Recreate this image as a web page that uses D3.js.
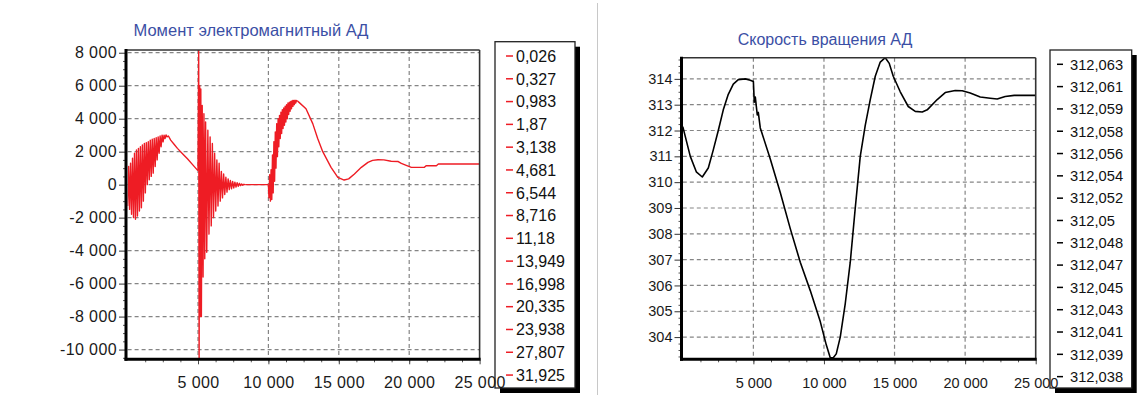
<!DOCTYPE html>
<html><head><meta charset="utf-8">
<script src="https://cdn.jsdelivr.net/npm/d3@7"></script>
<style>
body{margin:0;background:#fff}
svg{display:block}
text{font-family:"Liberation Sans", Arial, sans-serif}
</style>
</head><body>
<svg id="c" width="1142" height="401"></svg>
<script>
// ---------------- DATA ----------------
const xTicks = [5000, 10000, 15000, 20000, 25000];
const torqueYTicks = [-10000, -8000, -6000, -4000, -2000, 0, 2000, 4000, 6000, 8000];
const speedYTicks = [304, 305, 306, 307, 308, 309, 310, 311, 312, 313, 314];

const torqueTitle = "Момент электромагнитный АД";
const speedTitle = "Скорость вращения АД";

const torqueLegend = ["0,026","0,327","0,983","1,87","3,138","4,681","6,544","8,716","11,18","13,949","16,998","20,335","23,938","27,807","31,925"];
const speedLegend = ["312,063","312,061","312,059","312,058","312,056","312,054","312,052","312,05","312,048","312,047","312,045","312,043","312,041","312,039","312,038"];

// torque: start-up (t, value)
const torqueStart = [[0,-1300],[70,1100],[140,-1500],[210,1300],[280,-1800],[350,1600],[420,-2000],[490,1900],[560,-2100],[630,2100],[700,-1900],[770,2200],[840,-1600],[910,2300],[980,-1400],[1050,2400],[1120,-1000],[1190,2500],[1260,-500],[1330,2550],[1400,0],[1470,2600],[1540,300],[1610,2700],[1680,500],[1750,2750],[1820,700],[1890,2800],[1960,1100],[2030,2850],[2100,1500],[2170,2900],[2240,1900],[2310,2950],[2380,2300],[2450,3000],[2520,2600],[2590,3000],[2660,2800],[2730,3020],[2800,2900],[2900,2950],[3060,2700],[3300,2450],[3540,2200],[3900,1880],[4250,1570],[4600,1230],[4960,880],[5000,870]];
// torque: fault transient
const torqueFault = [[5000,870],[5050,8300],[5080,-10700],[5120,6000],[5160,-8000],[5200,5800],[5240,-8000],[5300,4800],[5360,-5600],[5420,4300],[5480,-4500],[5540,3800],[5620,-4100],[5700,3300],[5780,-3000],[5860,2900],[5940,-2500],[6020,2500],[6100,-2000],[6180,1900],[6260,-1600],[6340,1500],[6420,-1300],[6500,1300],[6580,-1000],[6660,800],[6740,-800],[6820,650],[6900,-600],[6980,450],[7060,-450],[7140,350],[7220,-300],[7300,250],[7380,-250],[7460,200],[7540,-200],[7620,150],[7700,-150],[7780,120],[7860,-100],[7940,80],[8020,-60],[8100,40],[8180,-30],[8260,20],[8350,0]];
// torque: idle gap
const torqueIdle = [[8350,0],[10000,0]];
// torque: reclosing transient
const torqueReclose = [[10000,0],[10040,-800],[10090,600],[10140,-1000],[10190,900],[10240,-900],[10290,1800],[10340,-500],[10390,2600],[10440,200],[10490,3200],[10540,1000],[10590,3700],[10640,1700],[10690,4000],[10740,2300],[10790,4200],[10840,2800],[10890,4400],[10940,3100],[10990,4550],[11040,3400],[11090,4650],[11140,3600],[11190,4750],[11240,3800],[11290,4850],[11340,4000],[11390,4950],[11440,4250],[11490,5000],[11540,4450],[11590,5050],[11640,4600],[11690,5100],[11740,4750],[11790,5100],[11840,4850],[11890,5120],[11940,4950],[11990,5100],[12100,5050]];
// torque: settling
const torqueSettle = [[12100,5050],[12670,4600],[13150,3700],[13500,2800],[13860,2000],[14450,1050],[14930,440],[15380,280],[15700,350],[16110,650],[16600,1050],[17070,1350],[17400,1470],[17780,1510],[18200,1500],[18720,1420],[19220,1400],[19440,1290],[19790,1170],[20150,1050],[21080,1050],[21200,1150],[21930,1150],[22070,1250],[25000,1250]];

// speed (t, value)
const speedPoints = [[0,312.15],[531,311.0],[956,310.4],[1381,310.2],[1806,310.55],[2160,311.25],[2514,312.0],[2868,312.8],[3222,313.4],[3577,313.8],[3931,313.97],[4427,314.0],[4781,313.95],[5000,313.9],[5064,313.1],[5135,313.3],[5276,312.6],[5347,312.7],[5489,312.1],[6197,310.9],[6905,309.6],[7613,308.2],[8321,306.9],[9030,305.8],[9738,304.6],[10163,303.7],[10446,303.2],[10659,303.2],[10871,303.35],[11154,304.0],[11509,305.3],[11863,306.9],[12217,309.0],[12571,311.0],[12925,312.2],[13280,313.2],[13634,314.1],[13988,314.65],[14342,314.82],[14625,314.6],[14909,314.1],[15404,313.5],[15971,312.93],[16466,312.74],[16962,312.72],[17316,312.8],[18024,313.2],[18591,313.47],[19299,313.55],[19795,313.54],[20362,313.45],[21070,313.3],[21778,313.25],[22274,313.22],[22840,313.32],[23478,313.36],[25000,313.36]];

// ---------------- DRAW ----------------
const svg = d3.select("#c");
const loc = d3.formatLocale({decimal: ",", thousands: " ", grouping: [3], currency: ["", ""], minus: "-"});
const fmt = loc.format(",d");

// divider between the two screenshots
svg.append("line").attr("x1", 597.5).attr("x2", 597.5).attr("y1", 3).attr("y2", 395)
  .attr("stroke", "#c8c8c8").attr("stroke-width", 1);

function drawChart(o) {
  const g = svg.append("g");
  const x = d3.scaleLinear().domain([0, 25000]).range([o.x0, o.x1]);
  const y = d3.scaleLinear().domain(o.yDomain).range([o.yBottom, o.yTop]);
  const id = "clip" + o.name;
  svg.append("clipPath").attr("id", id).append("rect")
    .attr("x", o.x0).attr("y", o.yTop).attr("width", o.x1 - o.x0).attr("height", o.yBottom - o.yTop);

  // title
  g.append("text").attr("x", o.titleX).attr("y", o.titleY).attr("text-anchor", "middle")
    .attr("font-size", o.titleSize).attr("fill", "#3b4fa5").text(o.title);

  // grid
  const grid = g.append("g").attr("stroke", "#858585").attr("stroke-width", 1.2).attr("stroke-dasharray", "4,3");
  o.yTicks.forEach(v => grid.append("line").attr("x1", o.x0).attr("x2", o.x1).attr("y1", y(v)).attr("y2", y(v)));
  xTicks.filter(v => v < 25000).forEach(v => grid.append("line").attr("y1", o.yTop).attr("y2", o.yBottom).attr("x1", x(v)).attr("x2", x(v)));

  // line
  const line = d3.line().x(d => x(d[0])).y(d => y(d[1]));
  o.series.forEach(s => g.append("path").datum(s).attr("d", line).attr("fill", "none")
    .attr("stroke", o.color).attr("stroke-width", o.lineWidth).attr("stroke-linejoin", "round")
    .attr("clip-path", `url(#${id})`));

  // legend (drawn before axes so the last x label sits on top)
  const lg = g.append("g");
  lg.append("rect").attr("x", o.lx0 + 5).attr("y", o.ly0 + 5).attr("width", o.lx1 - o.lx0).attr("height", o.ly1 - o.ly0).attr("fill", "#000");
  lg.append("rect").attr("x", o.lx0).attr("y", o.ly0).attr("width", o.lx1 - o.lx0).attr("height", o.ly1 - o.ly0)
    .attr("fill", "#fff").attr("stroke", "#222").attr("stroke-width", 1.3);
  o.legend.forEach((t, i) => {
    const cy = o.legFirst + i * o.legStep;
    lg.append("line").attr("x1", o.lx0 + o.dash[0]).attr("x2", o.lx0 + o.dash[1]).attr("y1", cy).attr("y2", cy)
      .attr("stroke", o.color).attr("stroke-width", 1.5);
    lg.append("text").attr("x", o.lx0 + o.textOff).attr("y", cy).attr("dy", "0.36em")
      .attr("font-size", o.legSize).attr("fill", "#111").text(t);
  });

  // frame: top and right thin, left and bottom thick
  g.append("line").attr("x1", o.axisX).attr("x2", o.x1).attr("y1", o.yTop).attr("y2", o.yTop).attr("stroke", "#333").attr("stroke-width", 1.6);
  g.append("line").attr("x1", o.x1).attr("x2", o.x1).attr("y1", o.yTop).attr("y2", o.yBottom).attr("stroke", "#333").attr("stroke-width", 1.6);

  // y axis
  const ya = g.append("g").attr("transform", `translate(${o.axisX},0)`)
    .call(d3.axisLeft(y).tickValues(o.yTicks).tickFormat(o.yFmt).tickSize(7).tickPadding(2));
  ya.select(".domain").remove();
  ya.selectAll("text").attr("font-size", o.tickSize).attr("fill", "#1a1a1a").attr("font-family", null)
    .attr("letter-spacing", o.tickSpacing);
  ya.selectAll("line").attr("stroke", "#333");
  const ym = g.append("g").attr("transform", `translate(${o.axisX},0)`)
    .call(d3.axisLeft(y).tickValues(o.yMinor).tickFormat("").tickSize(3));
  ym.select(".domain").remove();
  ym.selectAll("line").attr("stroke", "#555");

  // x axis
  const xa = g.append("g").attr("transform", `translate(0,${o.yBottom})`)
    .call(d3.axisBottom(x).tickValues(xTicks).tickFormat(fmt).tickSize(5).tickPadding(2));
  xa.select(".domain").remove();
  xa.selectAll("text").attr("font-size", o.tickSize).attr("fill", "#1a1a1a").attr("font-family", null)
    .attr("y", 28.5).attr("dy", 0).attr("letter-spacing", o.tickSpacing);
  xa.selectAll("line").attr("stroke", "#444");
  const xm = g.append("g").attr("transform", `translate(0,${o.yBottom})`)
    .call(d3.axisBottom(x).tickValues(d3.range(1250, 25000, 1250)).tickFormat("").tickSize(3));
  xm.select(".domain").remove();
  xm.selectAll("line").attr("stroke", "#555");

  // thick axis lines
  g.append("line").attr("x1", o.axisX).attr("x2", o.axisX).attr("y1", o.yTop - 1).attr("y2", o.yBottom + 1.5)
    .attr("stroke", "#000").attr("stroke-width", 3);
  g.append("line").attr("x1", o.axisX - 1.5).attr("x2", o.x1 + 1).attr("y1", o.yBottom).attr("y2", o.yBottom)
    .attr("stroke", "#000").attr("stroke-width", 3);
}

drawChart({
  name: "torque", x0: 127.6, x1: 479.6, axisX: 126, yTop: 50, yBottom: 359.3,
  yDomain: [-10590, 8165], yTicks: torqueYTicks,
  yMinor: d3.range(-10500, 8001, 500).filter(v => v % 2000 !== 0),
  yFmt: fmt, tickSize: 16, tickSpacing: 0.4,
  series: [torqueStart, torqueFault, torqueIdle, torqueReclose, torqueSettle],
  color: "#ee1c24", lineWidth: 1.4,
  title: torqueTitle, titleX: 251, titleY: 36, titleSize: 16.5,
  legend: torqueLegend, lx0: 495, lx1: 575, ly0: 41.7, ly1: 388,
  legFirst: 56, legStep: 22.79, dash: [11, 18], textOff: 21, legSize: 16
});

drawChart({
  name: "speed", x0: 682.8, x1: 1035.7, axisX: 681.5, yTop: 57.7, yBottom: 359.3,
  yDomain: [303.14, 314.82], yTicks: speedYTicks,
  yMinor: d3.range(303.25, 314.8, 0.25).filter(v => Math.abs(v - Math.round(v)) > 0.01),
  yFmt: d3.format("d"), tickSize: 14.5, tickSpacing: 0,
  series: [speedPoints],
  color: "#000", lineWidth: 1.6,
  title: speedTitle, titleX: 825, titleY: 45, titleSize: 16,
  legend: speedLegend, lx0: 1050, lx1: 1131.7, ly0: 50, ly1: 388,
  legFirst: 64.3, legStep: 22.31, dash: [7, 13], textOff: 20, legSize: 14.7
});
</script>
</body></html>
